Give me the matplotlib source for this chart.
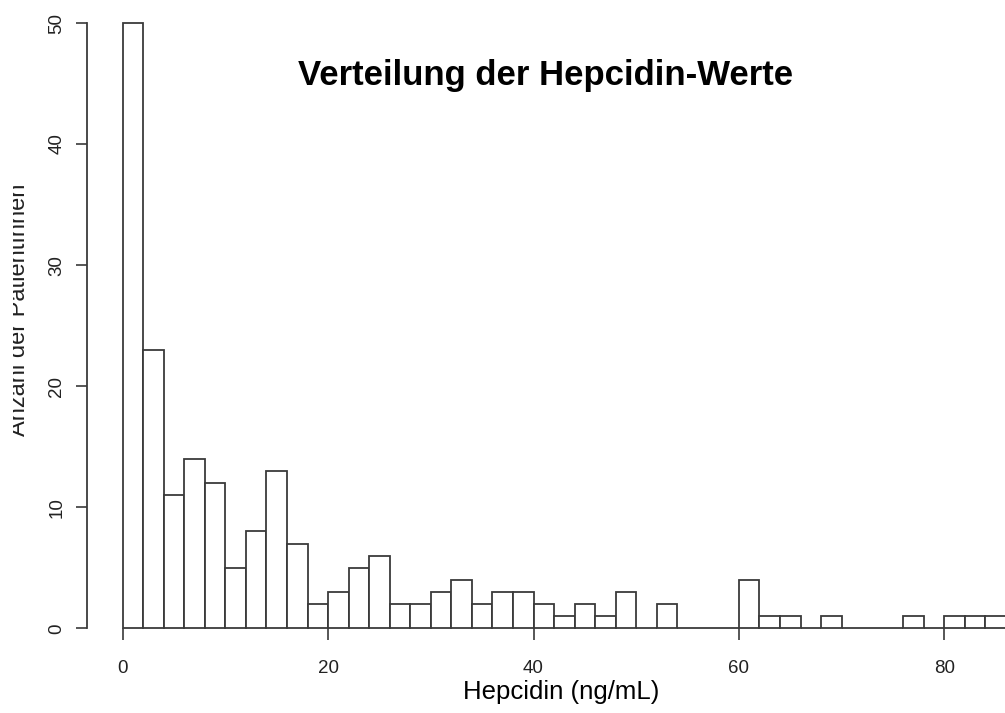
import matplotlib
matplotlib.use("Agg")
import matplotlib.pyplot as plt
import numpy as np
from matplotlib.transforms import Bbox

# histogram of hepcidin values, bin width 2 ng/mL
bin_edges = list(range(0, 88, 2))
counts = [50, 23, 11, 14, 12, 5, 8, 13, 7, 2,
          3, 5, 6, 2, 2, 3, 4, 2, 3, 3,
          2, 1, 2, 1, 3, 0, 2, 0, 0, 0,
          4, 1, 1, 0, 1, 0, 0, 0, 1, 0,
          1, 1, 1]
x_ticks = [0, 20, 40, 60, 80]
y_ticks = [0, 10, 20, 30, 40, 50]

plt.rcParams["font.family"] = ["Liberation Sans", "DejaVu Sans"]
line_col = "#3a3a3a"
text_col = "#222222"

W, H = 1005, 713
fig = plt.figure(figsize=(W / 100, H / 100), dpi=100)
ax = fig.add_axes([86.7 / W, (H - 628.3) / H, 1 - 86.7 / W, (628.3 - 23) / H])

lefts = np.array(bin_edges[:-1])
widths = np.diff(bin_edges)
ax.bar(lefts, counts, width=widths, align="edge", color="white",
       edgecolor=line_col, linewidth=1.3, clip_on=False)

ax.set_xlim((86.7 - 122.7) / 10.27, (1005 - 122.7) / 10.27)
ax.set_ylim(0, 50)

for s in ["top", "right", "bottom"]:
    ax.spines[s].set_visible(False)
ax.spines["left"].set_bounds(0, 50)
ax.spines["left"].set_color(line_col)
ax.spines["left"].set_linewidth(1.3)

ax.set_xticks(x_ticks)
ax.set_yticks(y_ticks)
ax.tick_params(axis="x", length=8.5, width=1.2, color=line_col, pad=14,
               labelsize=13.5, labelcolor=text_col)
ax.tick_params(axis="y", length=8, width=1.2, color=line_col, pad=7.5,
               labelsize=13.5, labelcolor=text_col)
for lab in ax.get_yticklabels():
    lab.set_rotation(90)
    lab.set_va("center")

fig.text(561 / W, 1 - 699 / H, "Hepcidin (ng/mL)", ha="center", va="baseline",
         fontsize=18.5, color="black")

# y label sits partly outside the visible area, as in the original
ylab = fig.text(25 / W, 1 - 310 / H, "Anzahl der PatientInnen", rotation=90,
                rotation_mode="anchor", ha="center", va="baseline",
                fontsize=17, color="#222222")
ylab.set_clip_box(Bbox([[13, 0], [60, H]]))
ylab.set_clip_on(True)

fig.text(546 / W, 1 - 75 / H, "Verteilung der Hepcidin-Werte",
         ha="center", va="center", fontsize=25, fontweight="bold")

fig.savefig("out.png", dpi=100)
